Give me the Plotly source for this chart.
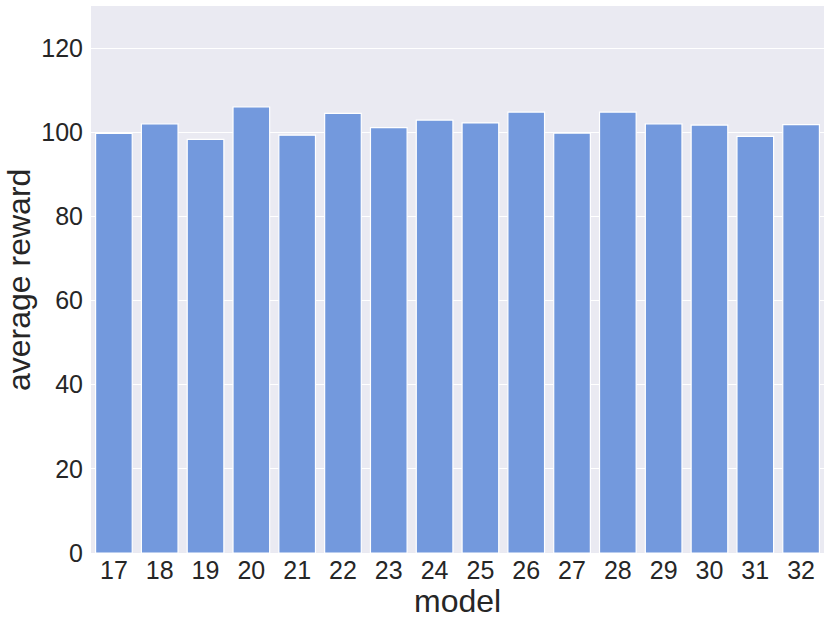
import plotly.graph_objects as go

models = ["17", "18", "19", "20", "21", "22", "23", "24", "25", "26", "27", "28", "29", "30", "31", "32"]
avg_reward = [99.7, 102.0, 98.3, 106.0, 99.3, 104.5, 101.1, 102.9, 102.2, 104.8, 99.8, 104.8, 102.0, 101.7, 99.0, 101.8]

fig = go.Figure(
    go.Bar(
        x=models,
        y=avg_reward,
        marker=dict(color="#7399dd", line=dict(color="white", width=1.2)),
    )
)

font = "Liberation Sans, Arial, sans-serif"
fig.update_layout(
    width=831,
    height=623,
    margin=dict(l=91, r=7, t=6, b=70, autoexpand=False),
    paper_bgcolor="white",
    plot_bgcolor="#eaeaf2",
    bargap=0.2,
    showlegend=False,
    font=dict(family=font, color="#262626", size=25),
)
fig.update_xaxes(
    type="category",
    tickfont=dict(size=25),
    showgrid=False,
    ticks="",
    automargin=False,
)
fig.update_yaxes(
    range=[0, 130],
    tickvals=[0, 20, 40, 60, 80, 100, 120],
    tickfont=dict(size=25),
    gridcolor="white",
    gridwidth=1.2,
    zeroline=False,
    ticks="",
    ticklabelstandoff=7,
    automargin=False,
)

# axis titles as annotations so they sit where the reference has them
fig.add_annotation(
    text="model", xref="paper", yref="paper", x=0.5, y=-0.088,
    xanchor="center", yanchor="middle", showarrow=False,
    font=dict(size=32, family=font, color="#262626"),
)
fig.add_annotation(
    text="average reward", xref="paper", yref="paper", x=-(91 - 19) / 733, y=(553 - 280) / 547,
    xanchor="center", yanchor="middle", showarrow=False, textangle=-90,
    font=dict(size=32, family=font, color="#262626"),
)

# drop the browser's default 8px body margin so the figure fills the window
fig.write_html(
    "out.html",
    config={"displayModeBar": False},
    post_script="document.body.style.margin='0';",
)
